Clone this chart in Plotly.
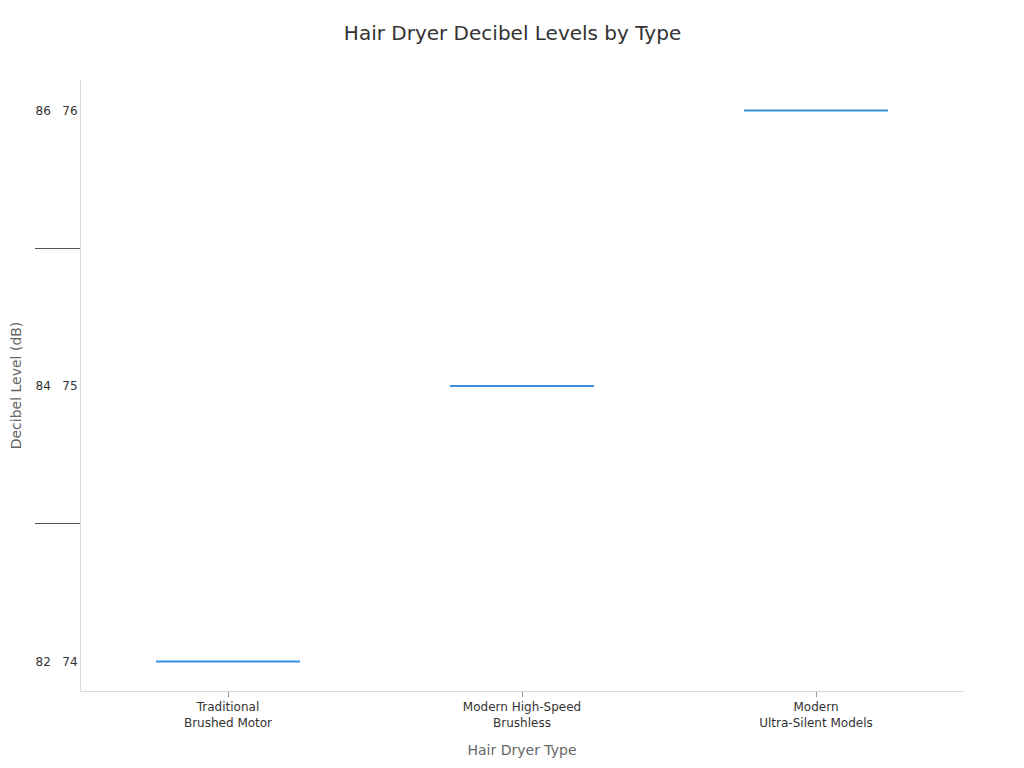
import plotly.graph_objects as go

categories = ["Traditional<br>Brushed Motor", "Modern High-Speed<br>Brushless", "Modern<br>Ultra-Silent Models"]
decibels = [74, 75, 76]
tick_vals = [74, 75, 76]
tick_text = ["82\u00a0\u00a0\u00a074", "84\u00a0\u00a0\u00a075", "86\u00a0\u00a0\u00a076"]
minor_vals = [74.5, 75.5]

fig = go.Figure()
for cat, val in zip(categories, decibels):
    fig.add_trace(go.Box(
        x=[cat], y=[val], width=0.49,
        line=dict(color="#3b8fde", width=2),
        fillcolor="rgba(59,143,222,0.3)",
        boxpoints=False, showlegend=False,
    ))

fig.update_layout(
    width=1024, height=768,
    paper_bgcolor="white", plot_bgcolor="white",
    margin=dict(l=73, r=69, t=72, b=85),
    font=dict(family="DejaVu Sans", color="#333333", size=12),
    title=dict(text="Hair Dryer Decibel Levels by Type", xref="container", x=0.4927,
               xanchor="center", y=1 - 25 / 768, yanchor="middle",
               font=dict(size=20, color="#333333")),
    showlegend=False,
)
fig.update_xaxes(
    type="category", categoryorder="array", categoryarray=categories,
    range=[-0.5, 2.5],
    showline=True, linecolor="#d9d9d9", linewidth=1,
    ticks="outside", ticklen=5, tickcolor="#999999",
    showgrid=False, zeroline=False,
    tickfont=dict(size=12, color="#333333"),
    title=dict(text="Hair Dryer Type", font=dict(size=14, color="#666666"), standoff=16),
)
fig.update_yaxes(
    range=[73.893, 76.111], automargin=False,
    tickmode="array", tickvals=tick_vals, ticktext=tick_text,
    showline=True, linecolor="#d9d9d9", linewidth=1,
    ticks="", showgrid=False, zeroline=False,
    tickfont=dict(size=12, color="#333333"),
    minor=dict(tickmode="array", tickvals=minor_vals, ticks="outside", ticklen=45,
               tickcolor="#555555", tickwidth=1, showgrid=False),
    title=dict(text="Decibel Level (dB)", font=dict(size=14, color="#666666"), standoff=26),
)

fig.write_html("out.html")
